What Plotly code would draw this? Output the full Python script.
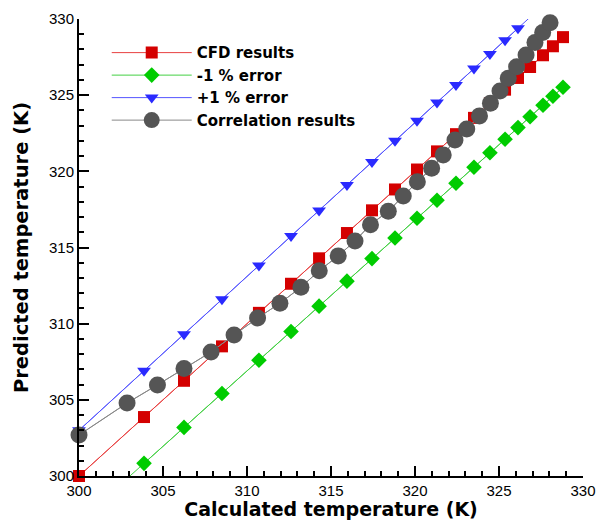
import plotly.graph_objects as go

# ---- data ----
cfd_x = [300.00, 303.87, 306.25, 308.51, 310.71, 312.62, 314.29, 315.95, 317.44, 318.81,
         320.12, 321.31, 322.44, 323.51, 324.46, 325.36, 326.13, 326.85, 327.62, 328.21, 328.81]
cfd_y = [300.00, 303.87, 306.25, 308.51, 310.71, 312.62, 314.29, 315.95, 317.44, 318.81,
         320.12, 321.31, 322.44, 323.51, 324.46, 325.36, 326.13, 326.85, 327.62, 328.21, 328.81]
minus1_y = [297.00, 300.83, 303.19, 305.42, 307.60, 309.49, 311.15, 312.79, 314.27, 315.62,
            316.92, 318.10, 319.22, 320.27, 321.22, 322.11, 322.87, 323.58, 324.34, 324.93, 325.52]
plus1_y = [303.00, 306.91, 309.31, 311.60, 313.82, 315.75, 317.43, 319.11, 320.61, 322.00,
           323.32, 324.52, 325.66, 326.75, 327.70, 328.61, 329.39, 330.12, 330.90, 331.49, 332.10]
corr_x = [300.00, 302.86, 304.67, 306.25, 307.86, 309.23, 310.63, 311.96, 313.21, 314.30,
          315.43, 316.43, 317.35, 318.41, 319.30, 320.14, 320.99, 321.68, 322.38, 323.08,
          323.84, 324.49, 325.06, 325.55, 326.05, 326.61, 327.14, 327.60, 328.04]
corr_y = [302.69, 304.79, 305.98, 307.06, 308.14, 309.26, 310.37, 311.34, 312.39, 313.48,
          314.45, 315.43, 316.50, 317.38, 318.38, 319.32, 320.20, 321.08, 322.06, 322.78,
          323.64, 324.47, 325.28, 326.11, 326.87, 327.64, 328.45, 329.11, 329.76]

x_range = [300, 330]
y_range = [300, 330]

BOLD_FONT = "DejaVu Sans, Liberation Sans, Arial, sans-serif"
TICK_FONT = "Liberation Sans Narrow, Liberation Sans, Arial, sans-serif"

series = [
    ("CFD results", cfd_x, cfd_y, "#d40000", "#e84040", "square", 12),
    ("-1 % error", cfd_x, minus1_y, "#00cc00", "#44d044", "diamond", 12),
    ("+1 % error", cfd_x, plus1_y, "#2a2aff", "#5555ff", "triangle-down", 12),
    ("Correlation results", corr_x, corr_y, "#555555", "#888888", "circle", 17),
]

fig = go.Figure()
for name, xs, ys, mcol, lcol, sym, size in series:
    # full line (clipped by the axes)
    fig.add_trace(go.Scatter(x=xs, y=ys, mode="lines", showlegend=False,
                             line=dict(color=lcol, width=1), hoverinfo="skip"))
    # markers only for points inside the axis range, drawn unclipped
    pts = [(x, y) for x, y in zip(xs, ys)
           if x_range[0] <= x <= x_range[1] and y_range[0] <= y <= y_range[1]]
    fig.add_trace(go.Scatter(x=[p[0] for p in pts], y=[p[1] for p in pts],
                             mode="lines+markers", name=name,
                             line=dict(color=lcol, width=1),
                             marker=dict(symbol=sym, size=size, color=mcol, line=dict(width=0)),
                             cliponaxis=False))

axis_common = dict(
    showline=True, linecolor="black", linewidth=2, mirror=False,
    showgrid=False, zeroline=False, automargin=False,
    ticks="inside", ticklen=10, tickwidth=2, tickcolor="black",
    dtick=5, tick0=300,
    minor=dict(ticks="inside", ticklen=5, tickwidth=1.5, tickcolor="black", dtick=1, showgrid=False),
    tickfont=dict(family=TICK_FONT, size=15, color="black"),
)

fig.update_layout(
    width=604, height=520,
    margin=dict(l=79, r=21, t=19, b=44),
    paper_bgcolor="white", plot_bgcolor="white",
    font=dict(family=BOLD_FONT, color="black"),
    xaxis=dict(range=x_range, **axis_common,
               title=dict(text="Calculated temperature (K)", standoff=0,
                          font=dict(family=BOLD_FONT, size=19, color="black", weight="bold"))),
    yaxis=dict(range=y_range, **axis_common,
               title=dict(text="Predicted temperature (K)", standoff=15,
                          font=dict(family=BOLD_FONT, size=19.5, color="black", weight="bold"))),
    legend=dict(x=0.055, y=0.962, xanchor="left", yanchor="top",
                bgcolor="rgba(0,0,0,0)", borderwidth=0,
                font=dict(family=BOLD_FONT, size=15, color="black", weight="bold"),
                itemwidth=80, tracegroupgap=0),
    showlegend=True,
)

fig.write_html("out.html",
               config={"displayModeBar": False},
               post_script="document.body.style.margin='0';document.body.style.padding='0';")
